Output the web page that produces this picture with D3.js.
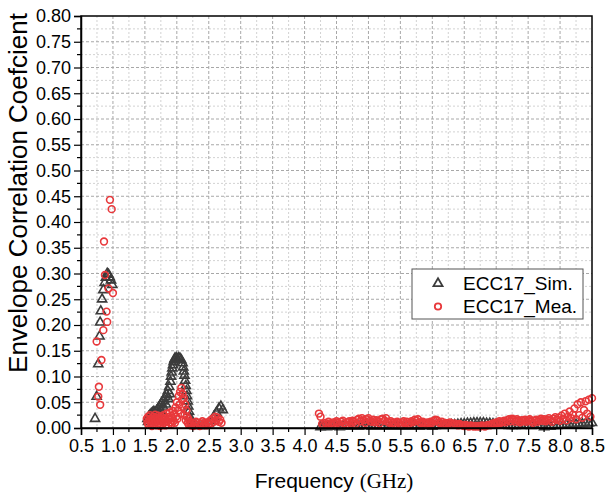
<!DOCTYPE html>
<html>
<head>
<meta charset="utf-8">
<script src="https://cdn.jsdelivr.net/npm/d3@7/dist/d3.min.js"></script>
<style>
  html, body { margin: 0; padding: 0; background: #fff; }
  svg { display: block; font-family: "Liberation Sans", Arial, sans-serif; }
</style>
</head>
<body>
<svg id="chart" width="605" height="495"></svg>
<script>
// ---- data -------------------------------------------------------------
// Simulated ECC, low band and 2 GHz band
const simLowFreq = [0.72, 0.745, 0.77, 0.79, 0.80, 0.81, 0.83, 0.85, 0.87, 0.89, 0.91, 0.93, 0.95, 0.97, 0.99];
const simLowEcc  = [0.018, 0.061, 0.124, 0.178, 0.205, 0.227, 0.250, 0.268, 0.282, 0.292, 0.300, 0.298, 0.293, 0.287, 0.278];

const simMidFreq = [1.54, 1.55, 1.56, 1.58, 1.59, 1.60, 1.62, 1.63, 1.64, 1.66, 1.67, 1.68, 1.70, 1.71, 1.72, 1.74, 1.75, 1.76,
                    1.78, 1.79, 1.80, 1.82, 1.83, 1.84, 1.86, 1.87, 1.88, 1.89,
                    1.90, 1.91, 1.92, 1.93, 1.94, 1.95, 1.96, 1.97, 1.99, 2.01, 2.03, 2.05, 2.07, 2.09, 2.10, 2.11, 2.12, 2.13,
                    2.14, 2.15, 2.16, 2.17, 2.18, 2.19, 2.20, 2.22, 2.25, 2.30, 2.35, 2.40, 2.45, 2.50, 2.54, 2.58, 2.62, 2.66,
                    2.69, 2.72];
const simMidEcc  = [0.018, 0.012, 0.022, 0.025, 0.018, 0.028, 0.030, 0.022, 0.032, 0.030, 0.024, 0.033, 0.036, 0.028, 0.040, 0.044, 0.034, 0.048,
                    0.052, 0.040, 0.056, 0.060, 0.046, 0.065, 0.072, 0.056, 0.080, 0.066,
                    0.090, 0.100, 0.108, 0.116, 0.122, 0.128, 0.132, 0.135, 0.136, 0.134, 0.136, 0.135, 0.132, 0.126, 0.118, 0.110, 0.102, 0.092,
                    0.082, 0.072, 0.062, 0.052, 0.042, 0.032, 0.022, 0.014, 0.008, 0.005, 0.004, 0.004, 0.005, 0.008, 0.014, 0.022, 0.030, 0.038,
                    0.042, 0.035];

// Simulated ECC, high band sweep (4.25 GHz to 8.5 GHz, 50 MHz step)
const simHighStart = 4.25, simHighStep = 0.05;
const simHighEcc = [0.002, 0.003, 0.002, 0.003, 0.004, 0.003, 0.002, 0.003, 0.004, 0.003,
                    0.003, 0.004, 0.003, 0.004, 0.005, 0.004, 0.003, 0.004, 0.003, 0.004,
                    0.004, 0.003, 0.004, 0.003, 0.003, 0.004, 0.003, 0.004, 0.003, 0.004,
                    0.004, 0.003, 0.004, 0.005, 0.004, 0.003, 0.004, 0.005, 0.004, 0.005,
                    0.005, 0.006, 0.006, 0.007, 0.008, 0.008, 0.009, 0.009, 0.010, 0.010,
                    0.010, 0.010, 0.009, 0.009, 0.008, 0.007, 0.006, 0.005, 0.005, 0.004,
                    0.004, 0.004, 0.005, 0.004, 0.005, 0.005, 0.004, 0.005, 0.005, 0.006,
                    0.002, 0.003, 0.003, 0.004, 0.004, 0.005, 0.005, 0.006, 0.006, 0.007,
                    0.007, 0.008, 0.008, 0.009, 0.009, 0.010];

// Measured ECC, low band and 2 GHz band
const meaLowFreq = [0.745, 0.77, 0.78, 0.80, 0.82, 0.85, 0.86, 0.875, 0.90, 0.91, 0.93, 0.953, 0.98, 1.0];
const meaLowEcc  = [0.168, 0.061, 0.080, 0.045, 0.132, 0.190, 0.362, 0.297, 0.226, 0.206, 0.271, 0.443, 0.425, 0.262];

const meaMidFreq = [1.53, 1.54, 1.55, 1.56, 1.57, 1.58, 1.59, 1.60, 1.61, 1.62, 1.63, 1.64, 1.65, 1.66, 1.67, 1.68, 1.69, 1.70,
                    1.71, 1.72, 1.73, 1.74, 1.75, 1.76, 1.77, 1.78, 1.79, 1.80, 1.81, 1.82, 1.83, 1.84, 1.85, 1.86, 1.87, 1.88,
                    1.89, 1.90, 1.91, 1.92, 1.93, 1.94, 1.95, 1.96, 1.97, 1.98, 1.99, 2.00, 2.01, 2.02, 2.03, 2.04, 2.05, 2.06,
                    2.07, 2.08, 2.09, 2.10, 2.11, 2.12, 2.13, 2.14, 2.15, 2.16, 2.17, 2.18, 2.19, 2.20, 2.22, 2.24, 2.26, 2.28,
                    2.30, 2.32, 2.34, 2.36, 2.38, 2.40, 2.42, 2.44, 2.46, 2.48, 2.50, 2.52, 2.54, 2.56, 2.58, 2.60, 2.62, 2.64,
                    2.66, 2.68, 2.70];
const meaMidEcc  = [0.018, 0.010, 0.022, 0.006, 0.015, 0.025, 0.009, 0.018, 0.004, 0.013, 0.022, 0.008, 0.017, 0.026, 0.011, 0.020, 0.005, 0.015,
                    0.024, 0.009, 0.018, 0.004, 0.013, 0.022, 0.007, 0.016, 0.025, 0.010, 0.019, 0.005, 0.014, 0.028, 0.012, 0.021, 0.006, 0.016,
                    0.030, 0.011, 0.024, 0.008, 0.019, 0.033, 0.014, 0.027, 0.010, 0.040, 0.022, 0.050, 0.018, 0.034, 0.062, 0.045, 0.070, 0.028,
                    0.078, 0.055, 0.066, 0.040, 0.058, 0.025, 0.046, 0.015, 0.034, 0.022, 0.010, 0.018, 0.006, 0.012, 0.005, 0.010, 0.004, 0.008,
                    0.012, 0.006, 0.010, 0.004, 0.009, 0.013, 0.006, 0.010, 0.005, 0.011, 0.008, 0.014, 0.009, 0.018, 0.012, 0.022, 0.015, 0.020,
                    0.012, 0.016, 0.010];

// Measured ECC, high band sweep (4.225 GHz to 8.5 GHz, 25 MHz step)
const meaHighStart = 4.225, meaHighStep = 0.025;
const meaHighEcc = [0.028, 0.022, 0.008, 0.006, 0.010, 0.007, 0.012, 0.009, 0.006, 0.011,
                    0.008, 0.013, 0.010, 0.007, 0.012, 0.014, 0.009, 0.006, 0.011, 0.013,
                    0.010, 0.014, 0.012, 0.008, 0.016, 0.018, 0.013, 0.019, 0.015, 0.010,
                    0.017, 0.019, 0.014, 0.012, 0.016, 0.011, 0.015, 0.013, 0.009, 0.017,
                    0.018, 0.014, 0.019, 0.012, 0.010, 0.013, 0.009, 0.011, 0.008, 0.012,
                    0.010, 0.007, 0.011, 0.013, 0.009, 0.012, 0.008, 0.010, 0.013, 0.011,
                    0.016, 0.014, 0.017, 0.011, 0.009, 0.012, 0.010, 0.008, 0.011, 0.009,
                    0.012, 0.010, 0.014, 0.016, 0.015, 0.011, 0.009, 0.012, 0.008, 0.010,
                    0.007, 0.009, 0.011, 0.008, 0.006, 0.009, 0.007, 0.005, 0.008, 0.006,
                    0.005, 0.004, 0.006, 0.004, 0.003, 0.005, 0.004, 0.003, 0.004, 0.003,
                    0.004, 0.003, 0.005, 0.004, 0.003, 0.005, 0.006, 0.005, 0.007, 0.009,
                    0.008, 0.011, 0.009, 0.013, 0.010, 0.012, 0.014, 0.011, 0.015, 0.017,
                    0.013, 0.018, 0.016, 0.012, 0.017, 0.014, 0.011, 0.015, 0.013, 0.016,
                    0.012, 0.015, 0.017, 0.013, 0.010, 0.014, 0.016, 0.012, 0.015, 0.018,
                    0.014, 0.017, 0.013, 0.016, 0.019, 0.015, 0.012, 0.018, 0.021, 0.016,
                    0.020, 0.014, 0.024, 0.018, 0.028, 0.015, 0.022, 0.032, 0.019, 0.026,
                    0.038, 0.017, 0.046, 0.025, 0.050, 0.020, 0.035, 0.052, 0.028, 0.055,
                    0.022, 0.058];

const xTickLabels = ["0.5","1.0","1.5","2.0","2.5","3.0","3.5","4.0","4.5","5.0","5.5","6.0","6.5","7.0","7.5","8.0","8.5"];
const yTickLabels = ["0.00","0.05","0.10","0.15","0.20","0.25","0.30","0.35","0.40","0.45","0.50","0.55","0.60","0.65","0.70","0.75","0.80"];
const seriesNames = ["ECC17_Sim.", "ECC17_Mea."];

// ---- assemble series --------------------------------------------------
const zipPts = (fs, vs) => fs.map((f, i) => [f, vs[i]]);
const sweepPts = (start, step, vs) => vs.map((v, i) => [+(start + i * step).toFixed(3), v]);

const simPts = [].concat(zipPts(simLowFreq, simLowEcc), zipPts(simMidFreq, simMidEcc),
                         sweepPts(simHighStart, simHighStep, simHighEcc));
const meaPts = [].concat(zipPts(meaLowFreq, meaLowEcc), zipPts(meaMidFreq, meaMidEcc),
                         sweepPts(meaHighStart, meaHighStep, meaHighEcc));

// ---- layout ------------------------------------------------------------
const svg = d3.select("#chart");
const m = { left: 81, right: 592, top: 16, bottom: 428 };
const simColor = "#3c3c3c", meaColor = "#e8383b";

const x = d3.scaleLinear().domain([0.5, 8.5]).range([m.left, m.right]);
const y = d3.scaleLinear().domain([0, 0.8]).range([m.bottom, m.top]);

const xMajor = xTickLabels.map(Number);
const yMajor = yTickLabels.map(Number);
const xMinor = d3.range(16).map(i => xMajor[i] + 0.25);
const yMinor = d3.range(16).map(i => yMajor[i] + 0.025);

// grid
const grid = svg.append("g");
grid.selectAll(".gxm").data(xMinor).join("line")
  .attr("x1", d => x(d)).attr("x2", d => x(d)).attr("y1", m.top).attr("y2", m.bottom)
  .attr("stroke", "#d2d2d2").attr("stroke-width", 1).attr("stroke-dasharray", "2,2");
grid.selectAll(".gym").data(yMinor).join("line")
  .attr("y1", d => y(d)).attr("y2", d => y(d)).attr("x1", m.left).attr("x2", m.right)
  .attr("stroke", "#d2d2d2").attr("stroke-width", 1).attr("stroke-dasharray", "2,2");
grid.selectAll(".gxM").data(xMajor.slice(1, -1)).join("line")
  .attr("x1", d => x(d)).attr("x2", d => x(d)).attr("y1", m.top).attr("y2", m.bottom)
  .attr("stroke", "#a8a8a8").attr("stroke-width", 1).attr("stroke-dasharray", "3,2");
grid.selectAll(".gyM").data(yMajor.slice(1, -1)).join("line")
  .attr("y1", d => y(d)).attr("y2", d => y(d)).attr("x1", m.left).attr("x2", m.right)
  .attr("stroke", "#a8a8a8").attr("stroke-width", 1).attr("stroke-dasharray", "3,2");

// data markers
const tri = d3.symbol().type(d3.symbolTriangle).size(36);
svg.append("g").selectAll("path").data(simPts).join("path")
  .attr("d", tri)
  .attr("transform", d => `translate(${x(d[0])},${y(d[1])})`)
  .attr("fill", "none").attr("stroke", simColor).attr("stroke-width", 1.6);

svg.append("g").selectAll("circle").data(meaPts).join("circle")
  .attr("cx", d => x(d[0])).attr("cy", d => y(d[1])).attr("r", 3.4)
  .attr("fill", "none").attr("stroke", meaColor).attr("stroke-width", 1.6);

// frame
svg.append("rect").attr("x", m.left).attr("y", m.top)
  .attr("width", m.right - m.left).attr("height", m.bottom - m.top)
  .attr("fill", "none").attr("stroke", "#000").attr("stroke-width", 1.5);

// axes
const xAxis = d3.axisBottom(x).tickValues(xMajor).tickFormat((d, i) => xTickLabels[i])
  .tickSize(7).tickPadding(4);
const gx = svg.append("g").attr("transform", `translate(0,${m.bottom})`).call(xAxis);
gx.append("g").selectAll("line").data(xMinor).join("line")
  .attr("x1", d => x(d)).attr("x2", d => x(d)).attr("y1", 0).attr("y2", 4).attr("stroke", "#000");

const yAxis = d3.axisLeft(y).tickValues(yMajor).tickFormat((d, i) => yTickLabels[i])
  .tickSize(7).tickPadding(3);
const gy = svg.append("g").attr("transform", `translate(${m.left},0)`).call(yAxis);
gy.append("g").selectAll("line").data(yMinor).join("line")
  .attr("y1", d => y(d)).attr("y2", d => y(d)).attr("x1", 0).attr("x2", -4).attr("stroke", "#000");

[gx, gy].forEach(g => {
  g.select(".domain").attr("stroke", "#000").attr("stroke-width", 1.5);
  g.selectAll(".tick line").attr("stroke", "#000").attr("stroke-width", 1.2);
  g.selectAll("line").attr("stroke-width", 1.2);
  g.selectAll("text").attr("font-family", "Liberation Sans, Arial, sans-serif")
    .attr("font-size", 18).attr("fill", "#000");
});

// axis titles
const xt = svg.append("text").attr("x", 334).attr("y", 488).attr("text-anchor", "middle")
  .attr("font-size", 21).attr("fill", "#000");
xt.append("tspan").attr("font-family", "Liberation Sans, Arial, sans-serif").text("Frequency ");
xt.append("tspan").attr("font-family", "Liberation Serif, Times New Roman, serif").text("(GHz)");

svg.append("text").attr("transform", "translate(27,193) rotate(-90)")
  .attr("text-anchor", "middle").attr("font-size", 26).attr("fill", "#000")
  .attr("font-family", "Liberation Sans, Arial, sans-serif")
  .text("Envelope Correlation Coefcient");

// legend
const lg = svg.append("g");
lg.append("rect").attr("x", 412).attr("y", 269).attr("width", 171).attr("height", 50)
  .attr("fill", "#fff").attr("stroke", "#555").attr("stroke-width", 1);
lg.append("path").attr("d", tri).attr("transform", "translate(438,283.5)")
  .attr("fill", "none").attr("stroke", simColor).attr("stroke-width", 1.8);
lg.append("circle").attr("cx", 438).attr("cy", 306.5).attr("r", 3.2)
  .attr("fill", "none").attr("stroke", meaColor).attr("stroke-width", 1.8);
lg.selectAll("text").data(seriesNames).join("text")
  .attr("x", 463).attr("y", (d, i) => 290 + i * 23)
  .attr("font-size", 19).attr("fill", "#000")
  .attr("font-family", "Liberation Sans, Arial, sans-serif")
  .text(d => d);
</script>
</body>
</html>
